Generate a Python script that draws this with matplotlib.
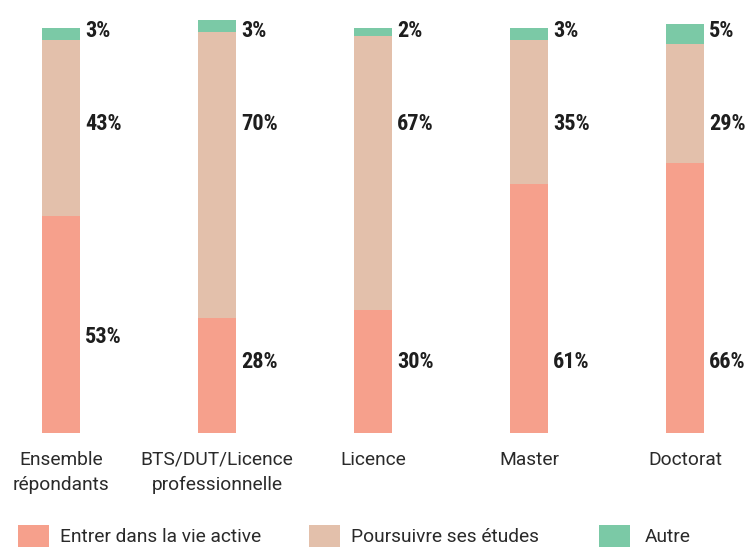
import matplotlib
matplotlib.use("Agg")
import matplotlib.pyplot as plt
from matplotlib.patches import Rectangle
from matplotlib import font_manager

categories = ["Ensemble\nrépondants", "BTS/DUT/Licence\nprofessionnelle", "Licence", "Master", "Doctorat"]
series_names = ["Entrer dans la vie active", "Poursuivre ses études", "Autre"]
entrer = [53, 28, 30, 61, 66]
poursuivre = [43, 70, 67, 35, 29]
autre = [3, 3, 2, 3, 5]
colors = ["#F6A08C", "#E3C0AB", "#7BC9A6"]

# label vertical anchors (data units) for the three label rows
label_y_bottom = [23.5, 17.4, 17.4, 17.4, 17.4]
label_y_mid = 75.5
label_y_top = 98.3

available = {f.name for f in font_manager.fontManager.ttflist}
bold_family = [f for f in ["Roboto Condensed", "Liberation Sans Narrow", "Roboto"] if f in available] + ["DejaVu Sans"]

W, H = 749, 547
fig = plt.figure(figsize=(W / 100, H / 100), dpi=100)
px = 4.09
bottom_px = 433
ax = fig.add_axes([0, (H - bottom_px) / H, 1, bottom_px / H])
spacing = 156.0
x0 = 61.0
ax.set_xlim(-x0 / spacing, (W - x0) / spacing)
ax.set_ylim(0, bottom_px / px)
ax.axis("off")

xs = list(range(len(categories)))
bw = 38 / spacing
b1 = ax.bar(xs, entrer, width=bw, color=colors[0], linewidth=0)
b2 = ax.bar(xs, poursuivre, width=bw, bottom=entrer, color=colors[1], linewidth=0)
bottoms3 = [a + b for a, b in zip(entrer, poursuivre)]
b3 = ax.bar(xs, autre, width=bw, bottom=bottoms3, color=colors[2], linewidth=0)

off = bw / 2 + 5 / spacing
tk = dict(family=bold_family, fontweight="bold", fontsize=16, color="#1e1e1e",
          ha="left", va="center")
for i in xs:
    ax.text(i + off, label_y_bottom[i], f"{entrer[i]}%", **tk)
    ax.text(i + off, label_y_mid, f"{poursuivre[i]}%", **tk)
    ax.text(i + off, label_y_top, f"{autre[i]}%", **tk)

for i, c in enumerate(categories):
    ax.text(i, -4.3, c, ha="center", va="top", fontsize=13.8, family=["Roboto", "DejaVu Sans"],
            color="#2a2a2a", linespacing=1.5, clip_on=False)

# legend
leg_items = [(18, 60), (309, 351), (599, 645)]
for (sx, tx), name, col in zip(leg_items, series_names, colors):
    fig.patches.append(Rectangle((sx / W, 0), 31 / W, 22 / H, transform=fig.transFigure,
                                 facecolor=col, edgecolor="none"))
    fig.text(tx / W, (H - 537) / H, name, ha="left", va="center", fontsize=13.8,
             family=["Roboto", "DejaVu Sans"], color="#2a2a2a")

fig.savefig("out.png", dpi=100)
